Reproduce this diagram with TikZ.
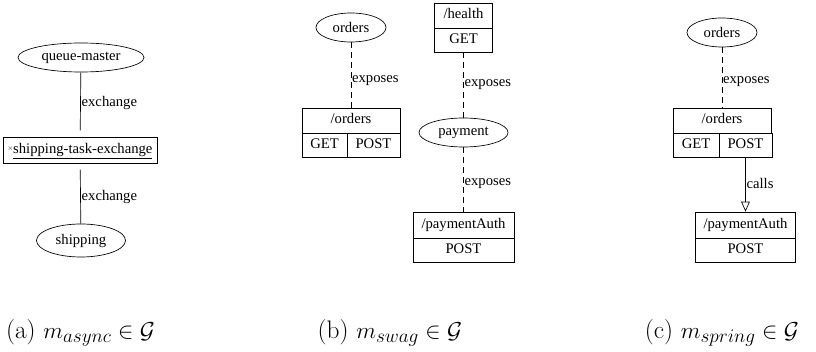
\documentclass[tikz,border=0pt]{standalone}
\usepackage{fontspec}
\newfontfamily\tms{Liberation Serif}
\usetikzlibrary{arrows.meta,shapes.geometric}
\begin{document}
\begin{tikzpicture}[x=0.75pt,y=-0.75pt,
  nf/.style={font=\tms\fontsize{11}{13}\selectfont},
  svc/.style={nf,draw,ellipse,inner sep=0pt,line width=0.5pt},
  cell/.style={nf,draw,rectangle,inner sep=0pt,line width=0.5pt,text height=7.6pt,text depth=2.4pt},
  lbl/.style={nf,right,inner sep=0.6pt},
  exp/.style={line width=0.5pt,dash pattern=on 4.5pt off 3pt},
  solidline/.style={line width=0.5pt},
  captext/.style={font=\fontsize{19}{22}\selectfont,inner sep=0pt}]
\useasboundingbox (0,0) rectangle (816,352);
% ---- panel (a)
\node[svc,minimum width=94.5pt,minimum height=21.75pt] (qm) at (81,57.5) {queue-master};
\node[cell,minimum width=115.5pt,minimum height=19.5pt,outer sep=5pt] (ex) at (80,150)
  {\raisebox{0.2em}{\scalebox{0.5}{$\times$}}\underline{shipping-task-exchange}};
\node[svc,minimum width=66.75pt,minimum height=24.75pt] (sh) at (81,240.5) {shipping};
\draw[solidline] (qm) -- node[lbl,pos=0.53]{exchange} (ex);
\draw[solidline] (ex) -- node[lbl,pos=0.51]{exchange} (sh);
% ---- panel (b)
\node[svc,minimum width=52.5pt,minimum height=21.75pt] (ob) at (351,27.5) {orders};
\node[cell,minimum width=73.5pt,minimum height=18.75pt] (obt) at (351,120.5) {/orders};
\node[cell,minimum width=33.75pt,minimum height=18pt] (obg) at (324.5,145) {GET};
\node[cell,minimum width=39.75pt,minimum height=18pt] (obp) at (373.5,145) {POST};
\draw[exp] (ob) -- node[lbl,pos=0.59]{exposes} (obt);
\node[cell,minimum width=43.5pt,minimum height=18.75pt] (ht) at (463.5,15.5) {/health};
\node[cell,minimum width=43.5pt,minimum height=18pt] (hg) at (463.5,40) {GET};
\node[svc,minimum width=66.75pt,minimum height=21.75pt] (pay) at (463.5,132.5) {payment};
\node[cell,minimum width=75.75pt,minimum height=19.5pt] (pat) at (463.5,225) {/paymentAuth};
\node[cell,minimum width=75.75pt,minimum height=18pt] (pap) at (463.5,250) {POST};
\draw[exp] (hg) -- node[lbl,pos=0.5]{exposes} (pay);
\draw[exp] (pay) -- node[lbl,pos=0.57]{exposes} (pat);
% ---- panel (c)
\node[svc,minimum width=52.5pt,minimum height=21.75pt] (oc) at (722,32.5) {orders};
\node[cell,minimum width=73.5pt,minimum height=18.75pt] (oct) at (722,120.5) {/orders};
\node[cell,minimum width=34.5pt,minimum height=18pt] (ocg) at (696,145) {GET};
\node[cell,minimum width=39.75pt,minimum height=18pt] (ocp) at (745.5,145) {POST};
\node[cell,minimum width=75pt,minimum height=19.5pt] (cpt) at (745.5,225) {/paymentAuth};
\node[cell,minimum width=75pt,minimum height=18pt] (cpp) at (745.5,250) {POST};
\draw[exp] (oc) -- node[lbl,pos=0.56]{exposes} (oct);
\draw[solidline,-{Triangle[open,length=7.5pt,width=6.5pt]}] (ocp) -- node[lbl,pos=0.48]{calls} (cpt);
% ---- captions
\node[captext] (capa) at (80.5,333) {(a) $m_{async} \in \mathcal{G}$};
\node[captext] (capb) at (390,333) {(b) $m_{swag} \in \mathcal{G}$};
\node[captext] (capc) at (722,333) {(c) $m_{spring} \in \mathcal{G}$};
\end{tikzpicture}
\end{document}
